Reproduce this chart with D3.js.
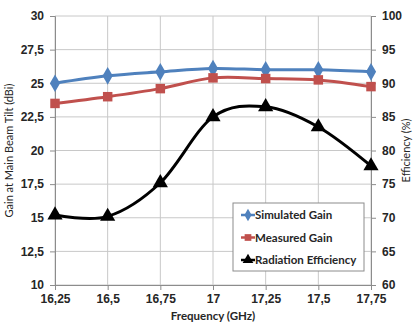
<!DOCTYPE html>
<html><head><meta charset="utf-8">
<script src="https://cdn.jsdelivr.net/npm/d3@7"></script>
<style>body{margin:0;background:#fff}svg{display:block;font-family:Lato,"Open Sans",sans-serif}</style>
</head><body><svg id="c" width="415" height="326"></svg>
<script>
const freqs = [16.25, 16.5, 16.75, 17, 17.25, 17.5, 17.75];
const freqLabels = ["16,25","16,5","16,75","17","17,25","17,5","17,75"];
const simulatedGain = [25.0, 25.55, 25.85, 26.1, 26.0, 26.0, 25.85];
const measuredGain = [23.5, 24.0, 24.6, 25.4, 25.35, 25.25, 24.75];
const radiationEff = [70.4, 70.2, 75.2, 85.0, 86.5, 83.5, 77.7];
const gainTicks = [10, 12.5, 15, 17.5, 20, 22.5, 25, 27.5, 30];
const effTicks = [60, 65, 70, 75, 80, 85, 90, 95, 100];
const seriesNames = ["Simulated Gain", "Measured Gain", "Radiation Efficiency"];

const svg = d3.select("#c");
const L = 55, R = 371, T = 16, B = 285;
const x = d3.scalePoint().domain(freqs).range([L, R]);
const yG = d3.scaleLinear().domain([10, 30]).range([B, T]);
const yE = d3.scaleLinear().domain([60, 100]).range([B, T]);
const fmt = v => String(v).replace(".", ",");

// grid
svg.append("g").selectAll("line").data(gainTicks).join("line")
  .attr("x1", L).attr("x2", R).attr("y1", d => yG(d)).attr("y2", d => yG(d))
  .attr("stroke", "#c8c8c8").attr("stroke-width", 1);
svg.append("g").selectAll("line").data(freqs).join("line")
  .attr("y1", T).attr("y2", B).attr("x1", d => x(d)).attr("x2", d => x(d))
  .attr("stroke", "#c8c8c8").attr("stroke-width", 1);

const axStyle = g => {
  g.selectAll("path,line").attr("stroke", "#8c8c8c");
  g.selectAll("text").attr("font-size", 12).attr("font-weight", "bold").attr("fill", "#262626");
};
svg.append("g").attr("transform", `translate(${L},0)`)
  .call(d3.axisLeft(yG).tickValues(gainTicks).tickFormat(fmt).tickSizeOuter(0).tickSize(5).tickPadding(6))
  .call(axStyle);
svg.append("g").attr("transform", `translate(${R},0)`)
  .call(d3.axisRight(yE).tickValues(effTicks).tickFormat(fmt).tickSizeOuter(0).tickSize(5).tickPadding(6))
  .call(axStyle);
svg.append("g").attr("transform", `translate(0,${B})`)
  .call(d3.axisBottom(x).tickFormat((d, i) => freqLabels[i]).tickSizeOuter(0).tickSize(5).tickPadding(4))
  .call(axStyle);

// titles
svg.append("text").attr("x", (L + R) / 2).attr("y", 320).attr("text-anchor", "middle")
  .attr("font-size", 11.5).attr("font-weight", "bold").attr("fill", "#262626").text("Frequency (GHz)");
svg.append("text").attr("transform", `translate(13,${(T + B) / 2}) rotate(-90)`).attr("text-anchor", "middle")
  .attr("font-size", 11).attr("fill", "#262626").text("Gain at Main Beam Tilt (dBi)");
svg.append("text").attr("transform", `translate(410,${(T + B) / 2}) rotate(-90)`).attr("text-anchor", "middle")
  .attr("font-size", 11).attr("fill", "#262626").text("Efficiency (%)");

const curve = d3.curveCardinal.tension(0);
const series = [
  {name: seriesNames[0], vals: simulatedGain, y: yG, color: "#4f81bd", sym: d3.symbolDiamond, size: 90},
  {name: seriesNames[1], vals: measuredGain, y: yG, color: "#c0504d", sym: d3.symbolSquare, size: 90},
  {name: seriesNames[2], vals: radiationEff, y: yE, color: "#000000", sym: d3.symbolTriangle, size: 100}
];
series.forEach(s => {
  const line = d3.line().x((d, i) => x(freqs[i])).y(d => s.y(d)).curve(curve);
  svg.append("path").datum(s.vals).attr("d", line).attr("fill", "none")
    .attr("stroke", s.color).attr("stroke-width", 3);
  svg.append("g").selectAll("path").data(s.vals).join("path")
    .attr("transform", (d, i) => `translate(${x(freqs[i])},${s.y(d)})`)
    .attr("d", d3.symbol().type(s.sym).size(s.size)).attr("fill", s.color);
});

// legend
const lg = svg.append("g").attr("transform", "translate(233,203)");
lg.append("rect").attr("width", 131).attr("height", 68).attr("fill", "#fff").attr("stroke", "#8c8c8c");
series.forEach((s, i) => {
  const yy = 12 + i * 22.5;
  lg.append("line").attr("x1", 8).attr("x2", 22).attr("y1", yy).attr("y2", yy)
    .attr("stroke", s.color).attr("stroke-width", 2.5);
  lg.append("path").attr("transform", `translate(15,${yy})`)
    .attr("d", d3.symbol().type(s.sym).size(s.size * 0.5)).attr("fill", s.color);
  lg.append("text").attr("x", 22).attr("y", yy + 4).attr("font-size", 11.5).attr("font-weight", "bold")
    .attr("fill", "#262626").text(s.name);
});
</script></body></html>
